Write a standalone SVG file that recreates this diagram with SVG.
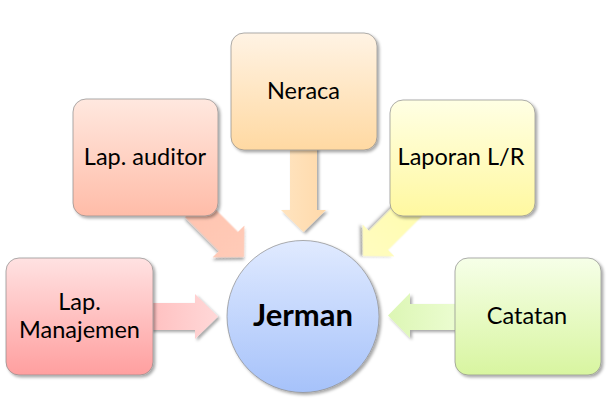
<svg xmlns="http://www.w3.org/2000/svg" width="608" height="405" viewBox="0 0 608 405">
<defs>
<filter id="sh" x="-10%" y="-10%" width="125%" height="125%">
<feDropShadow dx="2" dy="2" stdDeviation="1.5" flood-color="#000" flood-opacity="0.35"/>
</filter>
<linearGradient id="gMan" x1="0" y1="0" x2="0" y2="1"><stop offset="0" stop-color="#ffe2e2"/><stop offset="1" stop-color="#ff9f9f"/></linearGradient>
<linearGradient id="gAud" x1="0" y1="0" x2="0" y2="1"><stop offset="0" stop-color="#ffe8df"/><stop offset="1" stop-color="#ffbca8"/></linearGradient>
<linearGradient id="gNer" x1="0" y1="0" x2="0" y2="1"><stop offset="0" stop-color="#fff3e4"/><stop offset="1" stop-color="#ffd9a2"/></linearGradient>
<linearGradient id="gLap" x1="0" y1="0" x2="0" y2="1"><stop offset="0" stop-color="#ffffe4"/><stop offset="1" stop-color="#fff8a0"/></linearGradient>
<linearGradient id="gCat" x1="0" y1="0" x2="0" y2="1"><stop offset="0" stop-color="#f6ffe8"/><stop offset="1" stop-color="#d8f5a0"/></linearGradient>
<linearGradient id="gJer" x1="0" y1="0" x2="0" y2="1"><stop offset="0" stop-color="#e0eaff"/><stop offset="1" stop-color="#a6c2fa"/></linearGradient>
<linearGradient id="aMan" x1="0" y1="0" x2="1" y2="0"><stop offset="0" stop-color="#ffc0c0"/><stop offset="1" stop-color="#ffd8d8"/></linearGradient>
<linearGradient id="aAud" x1="0" y1="0" x2="1" y2="0"><stop offset="0" stop-color="#ffc4b0"/><stop offset="1" stop-color="#ffcbb8"/></linearGradient>
<linearGradient id="aNer" x1="0" y1="0" x2="1" y2="0"><stop offset="0" stop-color="#ffe4c0"/><stop offset="1" stop-color="#ffd9aa"/></linearGradient>
<linearGradient id="aLap" x1="0" y1="0" x2="1" y2="0"><stop offset="0" stop-color="#fffcb0"/><stop offset="1" stop-color="#fffcc0"/></linearGradient>
<linearGradient id="aCat" x1="0" y1="0" x2="1" y2="0"><stop offset="0" stop-color="#dcf6b4"/><stop offset="1" stop-color="#ecfdd2"/></linearGradient>
<path id="arr" d="M-70,-13.5 L-22,-13.5 L-22,-22.5 L0,0 L-22,22.5 L-22,13.5 L-70,13.5 Z"/>
</defs>
<style>
.box{stroke:#8c8c8c;stroke-opacity:0.7;stroke-width:1;filter:url(#sh)}
.arrow{filter:url(#sh)}
.t{font-family:Lato,"Liberation Sans",sans-serif;font-size:23.5px;fill:#000;text-anchor:middle}
.tb{font-family:Lato,"Liberation Sans",sans-serif;font-size:31px;font-weight:bold;fill:#000;text-anchor:middle}
</style>
<rect width="608" height="405" fill="#fff"/>
<g id="connectors">
<path class="arrow" d="M150,303 L195,303 L195,294 L218,316.5 L195,339 L195,330 L150,330 Z" fill="url(#aMan)"/>
<use href="#arr" class="arrow" fill="url(#aAud)" transform="translate(244,257) rotate(45)"/>
<path class="arrow" d="M290,145 L317,145 L317,210 L326,210 L303.5,232 L281,210 L290,210 Z" fill="url(#aNer)"/>
<use href="#arr" class="arrow" fill="url(#aLap)" transform="translate(363,256) rotate(135)"/>
<path class="arrow" d="M460,304 L410,304 L410,293 L388,315.5 L410,338 L410,330 L460,330 Z" fill="url(#aCat)"/>
</g>
<g id="node-manajemen">
<rect class="box" x="6" y="258" width="147" height="117" rx="13" fill="url(#gMan)"/>
<text class="t" x="79.5" y="310">Lap.</text>
<text class="t" x="79.5" y="338">Manajemen</text>
</g>
<g id="node-auditor">
<rect class="box" x="73" y="99" width="145" height="117" rx="13" fill="url(#gAud)"/>
<text class="t" x="145" y="165">Lap. auditor</text>
</g>
<g id="node-neraca">
<rect class="box" x="231" y="33" width="146" height="117" rx="13" fill="url(#gNer)"/>
<text class="t" x="303.5" y="99">Neraca</text>
</g>
<g id="node-laporan">
<rect class="box" x="390" y="100" width="145" height="116" rx="13" fill="url(#gLap)"/>
<text class="t" x="461" y="165">Laporan L/R</text>
</g>
<g id="node-catatan">
<rect class="box" x="455" y="258" width="146" height="117" rx="13" fill="url(#gCat)"/>
<text class="t" x="527" y="324">Catatan</text>
</g>
<g id="node-jerman">
<circle class="box" cx="303" cy="316.5" r="76" fill="url(#gJer)"/>
<text class="tb" x="303" y="326">Jerman</text>
</g>
</svg>
